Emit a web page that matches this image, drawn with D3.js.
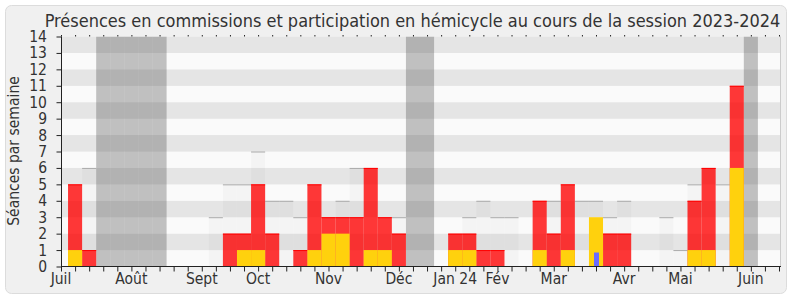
<!DOCTYPE html>
<html>
<head>
<meta charset="utf-8">
<script src="https://cdn.jsdelivr.net/npm/d3@7"></script>
<style>
  body { margin: 0; background: #fff; }
  svg text { font-family: "DejaVu Sans Condensed", "DejaVu Sans", sans-serif; font-stretch: condensed; fill: #333; }
</style>
</head>
<body>
<script>
// weekly values, week 0 = first week of July 2023
var weeks = d3.range(0, 52);
var red = [0,5,1,0,0,0,0,0,0,0,0,0,2,2,5,2,0,1,5,3,3,3,6,3,2,0,0,0,2,2,1,1,0,0,4,2,5,0,0,2,2,0,0,0,0,4,6,0,11,0,0,0];
var yellow = [0,1,0,0,0,0,0,0,0,0,0,0,0,1,1,0,0,0,1,2,2,0,1,1,0,0,0,0,1,1,0,0,0,0,1,0,1,0,3,0,0,0,0,0,0,1,1,0,6,0,0,0];
var blue = [0,0,0,0,0,0,0,0,0,0,0,0,0,0,0,0,0,0,0,0,0,0,0,0,0,0,0,0,0,0,0,0,0,0,0,0,0,0,0.85,0,0,0,0,0,0,0,0,0,0,0,0,0];
var median = [0,0,6,0,0,0,0,0,0,0,0,3,5,5,7,4,4,3,0,0,4,6,0,0,3,0,0,0,0,3,4,3,3,0,0,4,0,4,4,3,4,0,0,3,1,5,0,5,0,0,0,0];
var vacances = [3,4,5,6,7,25,26,49];
var monthLabels = ["Juil","Août","Sept","Oct","Nov","Déc","Jan 24","Fév","Mar","Avr","Mai","Juin"];
var monthWeeks = [0,5,10,14,19,24,28,31,35,40,44,49];
var yTicks = d3.range(0, 15);

var W = 790, H = 300;
var svg = d3.select("body").append("svg").attr("width", W).attr("height", H);

svg.append("rect")
  .attr("x", 5.5).attr("y", 5.5).attr("width", 781).attr("height", 288)
  .attr("rx", 6).attr("fill", "#f0f0f0").attr("stroke", "#dcdcdc");

var x = d3.scaleLinear().domain([0, 51.07]).range([61, 780]);
var y = d3.scaleLinear().domain([0, 14]).range([266.5, 36.5]);
var bw = x(1) - x(0);

var plot = svg.append("g");
svg.append("clipPath").attr("id", "clip")
  .append("rect").attr("x", 61).attr("y", 36.5).attr("width", 719).attr("height", 230);
plot.attr("clip-path", "url(#clip)");

// alternating bands
plot.selectAll("rect.band")
  .data(yTicks.slice(0, 14))
  .enter().append("rect")
  .attr("x", 61).attr("width", 719)
  .attr("y", function(d) { return y(d + 1); })
  .attr("height", function(d) { return y(d) - y(d + 1); })
  .attr("fill", function(d) { return d % 2 ? "#e5e5e5" : "#fafafa"; });

// vacation weeks
plot.selectAll("rect.vac")
  .data(vacances)
  .enter().append("rect")
  .attr("x", function(d) { return x(d - 0.5); })
  .attr("width", bw)
  .attr("y", y(14)).attr("height", y(0) - y(14))
  .attr("fill", "rgba(60,60,60,0.3)");

// median activity
var med = plot.selectAll("g.med")
  .data(weeks.filter(function(i) { return median[i] > 0; }))
  .enter().append("g");
med.append("rect")
  .attr("x", function(i) { return x(i - 0.5); })
  .attr("width", bw)
  .attr("y", function(i) { return y(median[i]); })
  .attr("height", function(i) { return y(0) - y(median[i]); })
  .attr("fill", "rgba(0,0,0,0.025)");
med.append("line")
  .attr("x1", function(i) { return x(i - 0.5); })
  .attr("x2", function(i) { return x(i + 0.5); })
  .attr("y1", function(i) { return y(median[i]) + 0.5; })
  .attr("y2", function(i) { return y(median[i]) + 0.5; })
  .attr("stroke", "#aaa");

// commissions
var r = plot.selectAll("g.red")
  .data(weeks.filter(function(i) { return red[i] > 0; }))
  .enter().append("g");
r.append("rect")
  .attr("x", function(i) { return x(i - 0.5); })
  .attr("width", bw)
  .attr("y", function(i) { return y(red[i]); })
  .attr("height", function(i) { return y(0) - y(red[i]); })
  .attr("fill", "rgba(255,0,0,0.78)");
r.append("line")
  .attr("x1", function(i) { return x(i - 0.5); })
  .attr("x2", function(i) { return x(i + 0.5); })
  .attr("y1", function(i) { return y(red[i]) + 0.5; })
  .attr("y2", function(i) { return y(red[i]) + 0.5; })
  .attr("stroke", "#f00");

// hemicycle
plot.selectAll("rect.yel")
  .data(weeks.filter(function(i) { return yellow[i] > 0; }))
  .enter().append("rect")
  .attr("x", function(i) { return x(i - 0.5); })
  .attr("width", bw)
  .attr("y", function(i) { return y(yellow[i]); })
  .attr("height", function(i) { return y(0) - y(yellow[i]); })
  .attr("fill", "#ffd10d");

// questions
plot.selectAll("rect.blue")
  .data(weeks.filter(function(i) { return blue[i] > 0; }))
  .enter().append("rect")
  .attr("x", function(i) { return x(i) - 2; })
  .attr("width", 5)
  .attr("y", function(i) { return y(blue[i]); })
  .attr("height", function(i) { return y(0) - y(blue[i]); })
  .attr("fill", "#6b6bff");

// right border
svg.append("line").attr("x1", 780.5).attr("x2", 780.5).attr("y1", 36.5).attr("y2", 266.5)
  .attr("stroke", "#ccc");

// axes
var xAxis = svg.append("g").attr("transform", "translate(0,266.5)")
  .call(d3.axisBottom(x).tickValues(weeks).tickSize(5).tickFormat(""));
xAxis.select(".domain").attr("stroke", "#222").attr("d", "M61,0H781");
xAxis.selectAll(".tick line").attr("stroke", "#222");

svg.selectAll("text.month")
  .data(monthLabels)
  .enter().append("text")
  .attr("x", function(d, i) { return x(monthWeeks[i]); })
  .attr("y", 284)
  .attr("text-anchor", "middle")
  .attr("font-size", "15.5px")
  .text(function(d) { return d; });

var topAxis = svg.append("g").attr("transform", "translate(0,36.5)")
  .call(d3.axisTop(x).tickValues(weeks).tickSize(1.5).tickFormat(""));
topAxis.select(".domain").remove();
topAxis.selectAll(".tick line").attr("stroke", "#222");

var yAxis = svg.append("g").attr("transform", "translate(61.5,0)")
  .call(d3.axisLeft(y).tickValues(yTicks).tickSize(5).tickPadding(9.5));
yAxis.select(".domain").attr("stroke", "#222").attr("d", "M0,36.5V266.5");
yAxis.selectAll(".tick line").attr("stroke", "#222");
yAxis.selectAll(".tick text").attr("font-size", "15.5px").attr("fill", "#333")
  .attr("font-family", "'DejaVu Sans Condensed', 'DejaVu Sans', sans-serif");

svg.append("text")
  .attr("transform", "translate(18.5,151) rotate(-90)")
  .attr("text-anchor", "middle")
  .attr("font-size", "15.5px")
  .text("Séances par semaine");

var title = svg.append("text")
  .attr("x", 412.5).attr("y", 27)
  .attr("text-anchor", "middle")
  .attr("font-size", "17px")
  .text("Présences en commissions et participation en hémicycle au cours de la session 2023-2024");
// fit title to the width seen in the reference
var tw = title.node().getComputedTextLength();
title.attr("font-size", (17 * 736 / tw).toFixed(2) + "px");
</script>
</body>
</html>
